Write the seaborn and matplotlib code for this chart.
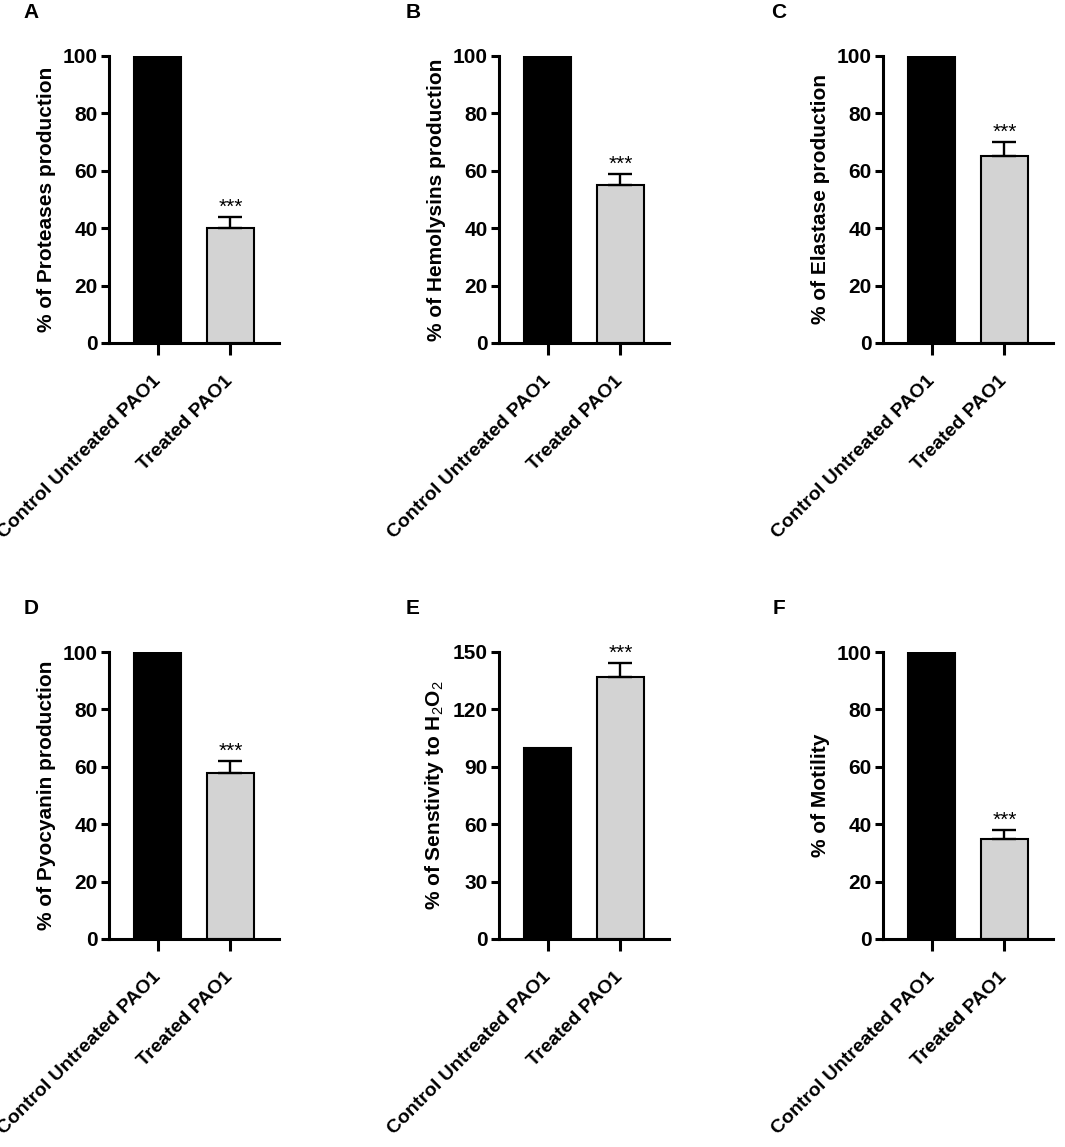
import matplotlib
matplotlib.use("Agg")
import matplotlib.pyplot as plt
import pandas as pd
import seaborn as sns

sns.set_style("ticks")
plt.rcParams["font.family"] = ["Liberation Sans", "DejaVu Sans"]
plt.rcParams["mathtext.fontset"] = "custom"
plt.rcParams["mathtext.rm"] = "Liberation Sans"
plt.rcParams["mathtext.default"] = "rm"
plt.rcParams["text.color"] = "black"
plt.rcParams["axes.labelcolor"] = "black"
plt.rcParams["axes.edgecolor"] = "black"
plt.rcParams["xtick.color"] = "black"
plt.rcParams["ytick.color"] = "black"

# data
groups = ["Control Untreated PAO1", "Treated PAO1"]
panel_letters = ["A", "B", "C", "D", "E", "F"]
ylabels = [
    "% of Proteases production",
    "% of Hemolysins production",
    "% of Elastase production",
    "% of Pyocyanin production",
    "% of Senstivity to H$_2$O$_2$",
    "% of Motility",
]
control_vals = [100, 100, 100, 100, 100, 100]
treated_vals = [40, 55, 65, 58, 137, 35]
treated_err = [4, 4, 5, 4, 7, 3]
y_max = [100, 100, 100, 100, 150, 100]
y_step = [20, 20, 20, 20, 30, 20]
signif = ["***"] * 6

colors = ["#000000", "#d3d3d3"]

W, H = 1065, 1147
fig = plt.figure(figsize=(W / 100, H / 100), dpi=100)

# axes boxes in pixels: (spine x, top y)
col_x = [109, 499, 883]
row_top = [56, 652]
ax_w, ax_h = 170, 287
letter_pos = [(31, 12), (413, 12), (779, 12), (31, 608), (413, 608), (779, 608)]

for i in range(6):
    r, c = divmod(i, 3)
    left = col_x[c] / W
    bottom = 1 - (row_top[r] + ax_h) / H
    ax = fig.add_axes([left, bottom, ax_w / W, ax_h / H])

    df = pd.DataFrame({"group": groups, "value": [control_vals[i], treated_vals[i]]})
    sns.barplot(data=df, x="group", y="value", hue="group", palette=colors,
                width=0.65, edgecolor="black", linewidth=1.5, legend=False, ax=ax)

    ax.errorbar([1], [treated_vals[i]], yerr=[[0], [treated_err[i]]], fmt="none",
                ecolor="black", elinewidth=1.7, capsize=8.5, capthick=1.7, zorder=3)
    ax.annotate(signif[i], xy=(1, treated_vals[i] + treated_err[i]),
                xytext=(0, 3), textcoords="offset points", ha="center",
                va="baseline", fontsize=15)

    ax.set_xlim(-0.67, 1.67)
    ax.set_ylim(0, y_max[i])
    ax.set_yticks(range(0, y_max[i] + 1, y_step[i]))
    ax.set_xlabel("")
    ax.set_ylabel(ylabels[i], fontsize=15, fontweight="bold", labelpad=5)
    sns.despine(ax=ax)
    for s in ["left", "bottom"]:
        ax.spines[s].set_linewidth(2.2)
    ax.tick_params(axis="y", width=2.2, length=6, pad=2, labelsize=15)
    ax.tick_params(axis="x", width=2.2, length=8.5, pad=17, labelsize=14)
    for lab in ax.get_yticklabels():
        lab.set_fontweight("bold")
    ax.set_xticks([0, 1])
    ax.set_xticklabels(groups, rotation=45, ha="right", va="center",
                       rotation_mode="anchor", fontweight="bold")

    lx, ly = letter_pos[i]
    fig.text(lx / W, 1 - ly / H, panel_letters[i], fontsize=15, fontweight="bold",
             ha="center", va="center")

fig.savefig("out.png", dpi=100)
